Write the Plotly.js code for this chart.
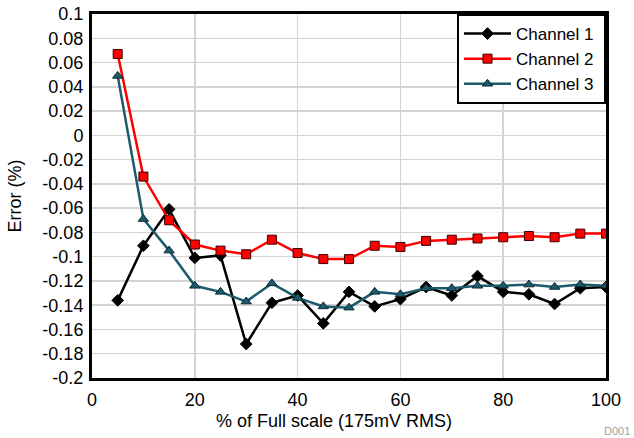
<!DOCTYPE html>
<html>
<head>
<meta charset="utf-8">
<script src="https://cdn.plot.ly/plotly-3.0.1.min.js"></script>
<style>html,body{margin:0;padding:0;background:#fff;}#chart{width:634px;height:438px;}</style>
</head>
<body>
<div id="chart"></div>
<script>
const xPct = [5,10,15,20,25,30,35,40,45,50,55,60,65,70,75,80,85,90,95,100];
const channel1 = [-0.136,-0.091,-0.061,-0.101,-0.099,-0.172,-0.138,-0.132,-0.155,-0.129,-0.141,-0.135,-0.125,-0.132,-0.116,-0.129,-0.131,-0.139,-0.126,-0.125];
const channel2 = [0.067,-0.034,-0.070,-0.090,-0.095,-0.098,-0.086,-0.097,-0.102,-0.102,-0.091,-0.092,-0.087,-0.086,-0.085,-0.084,-0.083,-0.084,-0.081,-0.081];
const channel3 = [0.049,-0.069,-0.095,-0.124,-0.129,-0.137,-0.122,-0.134,-0.141,-0.142,-0.129,-0.131,-0.126,-0.126,-0.124,-0.124,-0.123,-0.125,-0.123,-0.124];
const seriesNames = ["Channel 1", "Channel 2", "Channel 3"];
const yTickVals = [0.1,0.08,0.06,0.04,0.02,0,-0.02,-0.04,-0.06,-0.08,-0.1,-0.12,-0.14,-0.16,-0.18,-0.2];
const yTickText = ["0.1","0.08","0.06","0.04","0.02","0","-0.02","-0.04","-0.06","-0.08","-0.1","-0.12","-0.14","-0.16","-0.18","-0.2"];
const xTickVals = [0,20,40,60,80,100];
const xTickText = ["0","20","40","60","80","100"];

const fam = "Liberation Sans, Arial, sans-serif";
const font = {family: fam, size: 18, color: "#000"};

const traces = [
  {x: xPct, y: channel1, name: seriesNames[0] + "\u00a0", mode: "lines+markers",
   line: {color: "#000000", width: 2.5},
   marker: {symbol: "diamond", size: 9, color: "#000000", line: {color: "#000", width: 1}}},
  {x: xPct, y: channel2, name: seriesNames[1] + "\u00a0", mode: "lines+markers",
   line: {color: "#ff0000", width: 2.5},
   marker: {symbol: "square", size: 9, color: "#ff0000", line: {color: "#3a0000", width: 1}}},
  {x: xPct, y: channel3, name: seriesNames[2] + "\u00a0", mode: "lines+markers",
   line: {color: "#1b5b6b", width: 2.5},
   marker: {symbol: "triangle-up", size: 9, color: "#1b5b6b", line: {color: "#0a2a33", width: 1}}}
];

const layout = {
  width: 634, height: 438,
  margin: {l: 92, r: 28, t: 14, b: 60},
  paper_bgcolor: "#fff", plot_bgcolor: "#fff",
  font: font,
  showlegend: true,
  legend: {x: 1, xanchor: "right", y: 1, yanchor: "top",
           bgcolor: "#fff", bordercolor: "#000", borderwidth: 2,
           font: {family: fam, size: 17, color: "#000"}, tracegroupgap: 0, itemwidth: 47},
  xaxis: {range: [0,100], tickmode: "array", tickvals: xTickVals, ticktext: xTickText,
          showgrid: true, gridcolor: "#d4d4d4", gridwidth: 1.5,
          showline: true, linecolor: "#000", linewidth: 3, mirror: true,
          ticks: "", zeroline: false, tickfont: font, ticklabelstandoff: 3},
  yaxis: {range: [-0.2,0.1], tickmode: "array", tickvals: yTickVals, ticktext: yTickText,
          showgrid: true, gridcolor: "#d4d4d4", gridwidth: 1.5,
          showline: true, linecolor: "#000", linewidth: 3, mirror: true,
          ticks: "", zeroline: false, tickfont: font, ticklabelstandoff: 2,
          title: {text: "Error (%)", font: font, standoff: 17}},
  annotations: [
    {text: "% of Full scale (175mV RMS)", xref: "paper", yref: "paper", x: 0.47, y: -0.118,
     xanchor: "center", yanchor: "middle", showarrow: false, font: font},
    {text: "D001", xref: "paper", yref: "paper", x: 1.0506, y: -0.1456,
     xanchor: "right", yanchor: "middle", showarrow: false,
     font: {family: fam, size: 11, color: "#a0a0a0"}}]
};

Plotly.newPlot("chart", traces, layout, {displayModeBar: false, staticPlot: true});
</script>
</body>
</html>
